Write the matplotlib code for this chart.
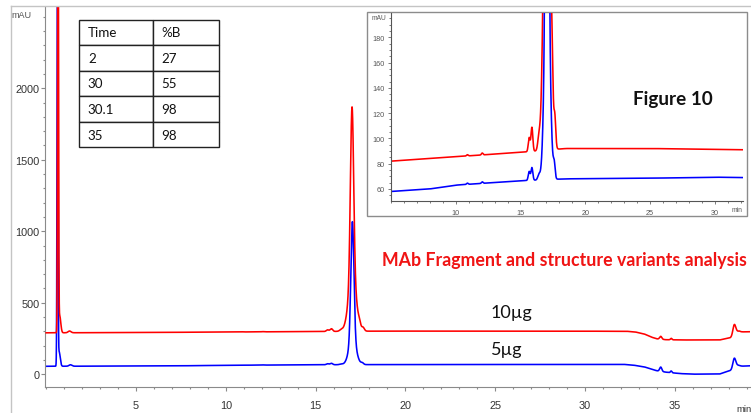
import numpy as np
import matplotlib
matplotlib.use("Agg")
import matplotlib.pyplot as plt
from matplotlib.lines import Line2D
from matplotlib.patches import Rectangle
from matplotlib.ticker import MultipleLocator

# ---------------- data ----------------
# gradient table
grad_time = ["2", "30", "30.1", "35"]
grad_pct_b = ["27", "55", "98", "98"]

# baseline knots (min, mAU) of each trace
red_base_t = [0, 5, 10, 15, 18.5, 25, 32.3, 32.8, 33.3, 33.7, 34.0, 34.5, 35.5, 37.5, 37.95, 38.25, 38.6, 39.3]
red_base_v = [80, 82, 85.5, 89, 92, 92, 91, 86, 72, 50, 38, 32, 30, 30, 42, 48, 86, 88]
blue_base_t = [0, 5, 8, 10, 15, 18.5, 25, 30, 32.2, 32.7, 33.3, 33.8, 34.0, 34.5, 35.3, 36.0, 37.5, 37.95, 38.25, 38.6, 39.3]
blue_base_v = [56, 58, 60, 63, 66.5, 68, 68.5, 69.3, 69, 64, 52, 32, 25, 15, 5, 1, 2, 22, 30, 56, 60]

# peak tables: retention time (min), height (mAU), width sigma (min)
red_rt = [0.66, 0.75, 1.3, 10.9, 12.05, 15.67, 15.88, 16.42, 17.03, 17.05, 17.45, 17.65, 34.22, 34.8, 38.31, 38.45]
red_h = [3500, 120, 12, 1.0, 1.5, 11, 19, 9, 1210, 360, 22, 20, 20, 10, 75, 15]
red_w = [0.025, 0.06, 0.08, 0.06, 0.06, 0.07, 0.07, 0.09, 0.09, 0.22, 0.05, 0.07, 0.06, 0.04, 0.08, 0.12]

blue_rt = [0.63, 0.72, 1.35, 10.9, 12.05, 15.67, 15.88, 16.42, 17.05, 17.06, 17.6, 34.22, 34.8, 38.31, 38.45]
blue_h = [3000, 100, 10, 1.0, 1.2, 7, 10, 4, 820, 180, 11, 30, 12, 70, 15]
blue_w = [0.025, 0.06, 0.08, 0.06, 0.06, 0.07, 0.07, 0.09, 0.085, 0.2, 0.07, 0.06, 0.04, 0.08, 0.12]

# vertical offset of each trace in the overview plot
red_offset = 210
blue_offset = 0

RED = "#ff0000"
BLUE = "#0000ff"


def trace(t, base_t, base_v, rt, h, w):
    y = np.interp(t, base_t, base_v)
    for r, a, s in zip(rt, h, w):
        y = y + a * np.exp(-0.5 * ((t - r) / s) ** 2)
    return y


t = np.linspace(0, 39.3, 12000)
red_sig = trace(t, red_base_t, red_base_v, red_rt, red_h, red_w)
blue_sig = trace(t, blue_base_t, blue_base_v, blue_rt, blue_h, blue_w)

W, H = 751, 414
fig = plt.figure(figsize=(W / 100, H / 100), dpi=100)


def box(x0, y0, x1, y1):
    return [x0 / W, 1 - y1 / H, (x1 - x0) / W, (y1 - y0) / H]


def fx(px):
    return px / W


def fy(py):
    return 1 - py / H


# page frame
fig.add_artist(Line2D([fx(11), fx(11)], [0, fy(7)], color="#c4c4c4", lw=1))
fig.add_artist(Line2D([fx(11), 1], [fy(7), fy(7)], color="#c4c4c4", lw=1))

# ---------------- overview chromatogram ----------------
ax = fig.add_axes(box(45, 8, 750, 387.7))
ax.plot(t, red_sig + red_offset, color=RED, lw=1.15, zorder=3)
ax.plot(t, blue_sig + blue_offset, color=BLUE, lw=1.15, zorder=2)
ax.set_xlim(-0.067, 39.19)
ax.set_ylim(-86.7, 2568)
for s in ("top", "right"):
    ax.spines[s].set_visible(False)
for s in ("left", "bottom"):
    ax.spines[s].set_color("#8a8a8a")
    ax.spines[s].set_linewidth(0.8)
ax.set_xticks([5, 10, 15, 20, 25, 30, 35])
ax.xaxis.set_minor_locator(MultipleLocator(1))
ax.set_yticks([0, 500, 1000, 1500, 2000])
ax.yaxis.set_minor_locator(MultipleLocator(100))
ax.tick_params(which="both", direction="out", color="#8a8a8a", width=0.8,
               labelcolor="#333333", labelsize=7.8)
ax.tick_params(which="major", length=2.6)
ax.tick_params(which="minor", length=1.5)
ax.tick_params(axis="x", pad=7)
ax.tick_params(axis="y", pad=1.5)
for lab in ax.get_xticklabels() + ax.get_yticklabels():
    lab.set_fontfamily("Liberation Sans")
fig.text(fx(21), fy(16), "mAU", fontsize=6.5, color="#555555", ha="center", va="center",
         family="Liberation Sans")
fig.text(fx(744), fy(410), "min", fontsize=6.8, color="#333333", ha="center", va="center",
         family="Liberation Sans")

ax.text(25.88, 433, "10µg", fontsize=13, family="Lato", ha="center", va="center", color="#111111")
ax.text(25.66, 177, "5µg", fontsize=13, family="Lato", ha="center", va="center", color="#111111")
ax.text(28.83, 806, "MAb Fragment and structure variants analysis", fontsize=12.8, family="Lato",
        fontweight="bold", color="#f01414", ha="center", va="center")

# ---------------- gradient table ----------------
tax = fig.add_axes(box(79, 20.7, 219, 148.3))
tax.axis("off")
rows = [["Time", "%B"]] + [[a, b] for a, b in zip(grad_time, grad_pct_b)]
tbl = tax.table(cellText=rows, cellLoc="left", colWidths=[0.53, 0.47], bbox=[0, 0, 1, 1])
tbl.auto_set_font_size(False)
tbl.set_fontsize(9.6)
for (r, c), cell in tbl.get_celld().items():
    cell.set_edgecolor("#222222")
    cell.set_linewidth(1.0)
    cell.PAD = 0.12
    cell.get_text().set_fontfamily("Lato")
    cell.get_text().set_color("#111111")

# ---------------- zoomed inset ----------------
fig.add_artist(Rectangle((fx(367.3), fy(216.7)), (746.7 - 367.3) / W, (216.7 - 13.3) / H,
                         transform=fig.transFigure, facecolor="white", edgecolor="#8c8c8c",
                         lw=1.0, zorder=4))
iax = fig.add_axes(box(390.8, 13.8, 743.3, 201.7), zorder=5)
iax.patch.set_alpha(0)
iax.plot(t, red_sig, color=RED, lw=1.15)
iax.plot(t, blue_sig, color=BLUE, lw=1.15)
iax.set_xlim(5.0, 32.18)
iax.set_ylim(50.7, 199.4)
for s in ("top", "right"):
    iax.spines[s].set_visible(False)
for s in ("left", "bottom"):
    iax.spines[s].set_color("#555555")
    iax.spines[s].set_linewidth(0.8)
iax.set_xticks([10, 15, 20, 25, 30])
iax.xaxis.set_minor_locator(MultipleLocator(1))
iax.set_yticks([60, 80, 100, 120, 140, 160, 180])
iax.yaxis.set_minor_locator(MultipleLocator(5))
iax.tick_params(which="both", direction="out", color="#666666", width=0.6,
                labelcolor="#555555", labelsize=5.2)
iax.tick_params(which="major", length=2.2)
iax.tick_params(which="minor", length=1.2)
iax.tick_params(axis="x", pad=3.5)
iax.tick_params(axis="y", pad=2.5)
for lab in iax.get_xticklabels() + iax.get_yticklabels():
    lab.set_fontfamily("Liberation Sans")
fig.text(fx(379), fy(18), "mAU", fontsize=4.8, color="#555555", ha="center", va="center",
         family="Liberation Sans", zorder=6)
fig.text(fx(737), fy(210.5), "min", fontsize=4.8, color="#555555", ha="center", va="center",
         family="Liberation Sans", zorder=6)
fig.text(fx(673), fy(100), "Figure 10", fontsize=13.6, family="Lato", fontweight="bold",
         color="#111111", ha="center", va="center", zorder=6)

fig.savefig("out.png", dpi=100)
